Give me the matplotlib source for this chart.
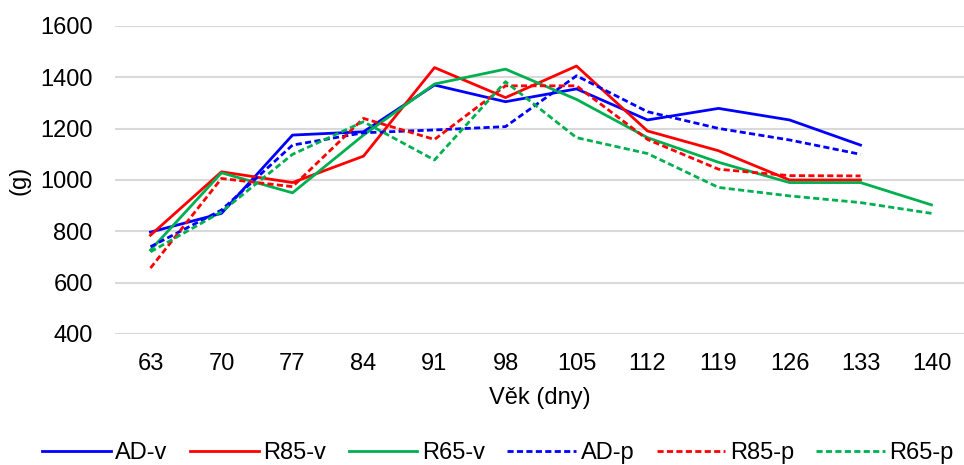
import numpy as np
import matplotlib
matplotlib.use("Agg")
import matplotlib.pyplot as plt

plt.rcParams['font.family'] = ['Liberation Sans', 'DejaVu Sans']

days = [63, 70, 77, 84, 91, 98, 105, 112, 119, 126, 133, 140]

ad_v = [797, 870, 1175, 1188, 1370, 1305, 1355, 1234, 1279, 1234, 1136, np.nan]
r85_v = [785, 1032, 990, 1093, 1438, 1321, 1444, 1191, 1114, 1000, 1000, np.nan]
r65_v = [727, 1028, 950, 1175, 1374, 1432, 1314, 1165, 1069, 990, 990, 903]
ad_p = [740, 883, 1136, 1184, 1195, 1208, 1406, 1266, 1201, 1156, 1100, np.nan]
r85_p = [657, 1006, 974, 1240, 1158, 1367, 1367, 1158, 1042, 1017, 1016, np.nan]
r65_p = [720, 876, 1100, 1227, 1078, 1383, 1165, 1103, 971, 938, 912, 870]

series = [
    ("AD-v", ad_v, "#0000FF", "-"),
    ("R85-v", r85_v, "#FF0000", "-"),
    ("R65-v", r65_v, "#00B050", "-"),
    ("AD-p", ad_p, "#0000FF", (0, (2.2, 1.2))),
    ("R85-p", r85_p, "#FF0000", (0, (2.2, 1.2))),
    ("R65-p", r65_p, "#00B050", (0, (2.2, 1.2))),
]

fig = plt.figure(figsize=(9.64, 4.65), dpi=100)
ax = fig.add_axes([115 / 964, 1 - 334 / 465, 849 / 964, 308 / 465])

x = np.arange(len(days))
for name, vals, col, ls in series:
    ax.plot(x, vals, color=col, linestyle=ls, linewidth=2.0, label=name)

ax.set_xlim(-0.5, -0.5 + 849 / 71.0)
ax.set_ylim(400, 1600)
ax.set_yticks(range(400, 1601, 200))
ax.set_xticks(x)
ax.set_xticklabels([str(d) for d in days])
ax.grid(axis='y', color='#D9D9D9', linewidth=1.5)
ax.set_axisbelow(True)
for s in ax.spines.values():
    s.set_visible(False)
ax.tick_params(length=0, labelsize=17, colors='black')
ax.tick_params(axis='x', pad=14)
ax.tick_params(axis='y', pad=16)

ax.set_xlabel("Věk (dny)", fontsize=17)
ax.set_ylabel("(g)", fontsize=17)
ax.xaxis.set_label_coords((540 - 115) / 849, -(398 - 334) / 308, transform=ax.transAxes)
ax.xaxis.label.set_va('center')
ax.yaxis.set_label_coords(-(115 - 19) / 849, 0.5)
ax.yaxis.label.set_va('center')

fig.legend(loc='center', bbox_to_anchor=(498 / 964, 1 - 453 / 465), ncol=6, frameon=False,
           fontsize=17, handlelength=2.9, columnspacing=0.95, handletextpad=0.2,
           borderaxespad=0)

fig.savefig("out.png", dpi=100)
